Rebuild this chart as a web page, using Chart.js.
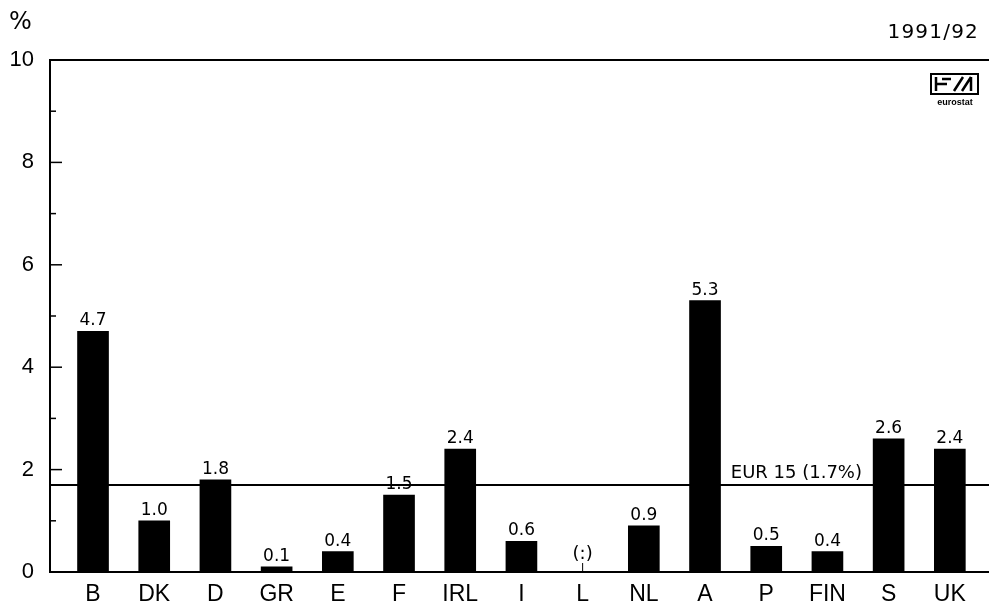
<!DOCTYPE html>
<html>
<head>
<meta charset="utf-8">
<script src="https://cdn.jsdelivr.net/npm/chart.js@4"></script>
<style>
  html, body { margin: 0; padding: 0; background: #fff; }
  #wrap { width: 989px; height: 606px; }
</style>
</head>
<body>
<div id="wrap"><canvas id="chart" width="989" height="606"></canvas></div>
<script>
// countries and values, 1991/92
var countries = ['B', 'DK', 'D', 'GR', 'E', 'F', 'IRL', 'I', 'L', 'NL', 'A', 'P', 'FIN', 'S', 'UK'];
var values = [4.7, 1.0, 1.8, 0.1, 0.4, 1.5, 2.4, 0.6, null, 0.9, 5.3, 0.5, 0.4, 2.6, 2.4];
var valueLabels = ['4.7', '1.0', '1.8', '0.1', '0.4', '1.5', '2.4', '0.6', '(:)', '0.9', '5.3', '0.5', '0.4', '2.6', '2.4'];
var yTicks = [0, 2, 4, 6, 8, 10];
var eurAverage = 1.7;
var eurLabel = 'EUR 15 (1.7%)';

var FONT = 'Arial, "Liberation Sans", Helvetica, sans-serif';
var FONT2 = '"DejaVu Sans", Verdana, sans-serif';

var points = [];
for (var i = 0; i < countries.length; i++) {
    points.push({ x: i, y: values[i] });
}

// extra drawing: frame top line, inward ticks, average line, labels, logo
var extras = {
    id: 'extras',
    afterDatasetsDraw: function (chart) {
        var ctx = chart.ctx;
        var area = chart.chartArea;
        var xs = chart.scales.x;
        var ys = chart.scales.y;
        ctx.save();
        ctx.strokeStyle = '#000';
        ctx.fillStyle = '#000';

        // top line
        ctx.lineWidth = 2;
        ctx.beginPath();
        ctx.moveTo(area.left, area.top);
        ctx.lineTo(area.right, area.top);
        ctx.stroke();

        // inward ticks on y axis
        ctx.lineWidth = 1.5;
        for (var v = 1; v < 10; v++) {
            var py = ys.getPixelForValue(v);
            var len = v % 2 === 0 ? 12 : 6;
            ctx.beginPath();
            ctx.moveTo(area.left, py);
            ctx.lineTo(area.left + len, py);
            ctx.stroke();
        }

        // EUR 15 average line
        var ay = ys.getPixelForValue(eurAverage);
        ctx.lineWidth = 2;
        ctx.beginPath();
        ctx.moveTo(area.left, ay);
        ctx.lineTo(area.right, ay);
        ctx.stroke();
        ctx.font = '18px ' + FONT2;
        ctx.textAlign = 'right';
        ctx.textBaseline = 'bottom';
        ctx.fillText(eurLabel, 862, ay - 3);

        // value labels
        ctx.textAlign = 'center';
        ctx.textBaseline = 'alphabetic';
        ctx.font = '17px ' + FONT2;
        for (var j = 0; j < countries.length; j++) {
            var px = xs.getPixelForValue(j);
            if (values[j] === null) {
                ctx.lineWidth = 1;
                ctx.beginPath();
                ctx.moveTo(px, area.bottom);
                ctx.lineTo(px, area.bottom - 9);
                ctx.stroke();
                ctx.font = '18px ' + FONT2;
                ctx.fillText(valueLabels[j], px, area.bottom - 13);
                ctx.font = '17px ' + FONT2;
            } else {
                ctx.fillText(valueLabels[j], px, ys.getPixelForValue(values[j]) - 6);
            }
        }

        // "%" and period
        ctx.font = '24px ' + FONT2;
        ctx.textAlign = 'left';
        ctx.fillText('%', 9, 29);
        ctx.font = '20px ' + FONT2;
        ctx.textAlign = 'right';
        ctx.letterSpacing = '1.2px';
        ctx.fillText('1991/92', 979, 38);
        ctx.letterSpacing = '0px';

        // eurostat logo
        var lx = 930, ly = 73;
        ctx.lineWidth = 2;
        ctx.strokeRect(lx + 1, ly + 1, 47, 20);
        ctx.lineWidth = 2.5;
        ctx.beginPath();
        ctx.moveTo(lx + 6, ly + 4); ctx.lineTo(lx + 6, ly + 18);
        ctx.moveTo(lx + 6, ly + 11); ctx.lineTo(lx + 17, ly + 11);
        ctx.moveTo(lx + 12, ly + 6); ctx.lineTo(lx + 21, ly + 6);
        ctx.moveTo(lx + 24, ly + 18); ctx.lineTo(lx + 33, ly + 4);
        ctx.moveTo(lx + 32, ly + 18); ctx.lineTo(lx + 41, ly + 4);
        ctx.moveTo(lx + 41, ly + 4); ctx.lineTo(lx + 41, ly + 18);
        ctx.stroke();
        ctx.font = 'bold 9px ' + FONT;
        ctx.textAlign = 'center';
        ctx.fillText('eurostat', lx + 25, ly + 32);

        ctx.restore();
    }
};

var graph = document.getElementById('chart');
var myChart = new Chart(graph, {
    type: 'bar',
    data: {
        datasets: [{
            data: points,
            backgroundColor: '#000',
            borderWidth: 0,
            barThickness: 31
        }]
    },
    options: {
        responsive: false,
        animation: false,
        layout: { padding: { top: 60, right: 0, left: 0, bottom: 0 } },
        plugins: { legend: { display: false }, tooltip: { enabled: false } },
        scales: {
            x: {
                type: 'linear',
                offset: false,
                min: -0.703,
                max: 14.64,
                grid: { display: false, drawTicks: false },
                border: { display: true, color: '#000', width: 2 },
                afterBuildTicks: function (scale) {
                    scale.ticks = countries.map(function (c, k) { return { value: k }; });
                },
                afterFit: function (scale) { scale.height = 34; },
                ticks: {
                    color: '#000',
                    font: { family: FONT, size: 23 },
                    padding: 9,
                    maxRotation: 0,
                    autoSkip: false,
                    callback: function (value) { return countries[value]; }
                }
            },
            y: {
                min: 0,
                max: 10,
                grid: { display: false, drawTicks: false },
                border: { display: true, color: '#000', width: 2 },
                afterBuildTicks: function (scale) {
                    scale.ticks = yTicks.map(function (t) { return { value: t }; });
                },
                afterFit: function (scale) { scale.width = 50; },
                ticks: {
                    color: '#000',
                    font: { family: FONT, size: 22 },
                    padding: 16
                }
            }
        }
    },
    plugins: [extras]
});
</script>
</body>
</html>
